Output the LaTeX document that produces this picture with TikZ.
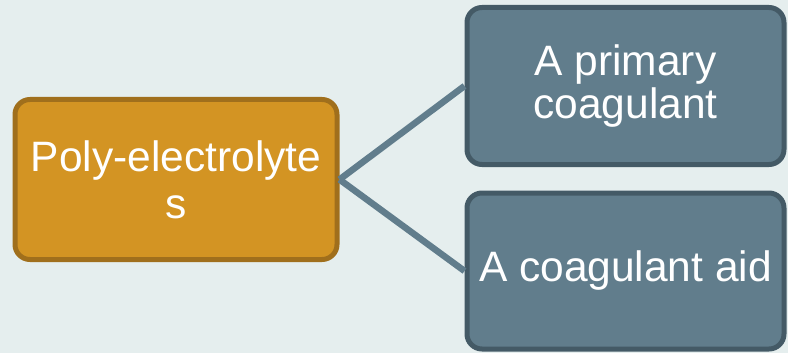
\documentclass[tikz,border=0pt]{standalone}
\usepackage{fontspec}
\setmainfont{Liberation Sans}
\definecolor{slidebg}{HTML}{E5EEEE}
\definecolor{ochre}{HTML}{D39423}
\definecolor{ochreline}{HTML}{A06F1C}
\definecolor{slate}{HTML}{617D8C}
\definecolor{slateline}{HTML}{445A66}
\tikzset{
  mainbox/.style={draw=ochreline, fill=ochre, line width=5pt, rounded corners=15pt,
    text=white, align=center, inner sep=0pt, font=\fontsize{42.5}{47}\selectfont},
  subbox/.style={draw=slateline, fill=slate, line width=5pt, rounded corners=15pt,
    text=white, align=center, inner sep=0pt, font=\fontsize{42.5}{43}\selectfont},
  branch/.style={draw=slate, line width=6.5pt}
}
\begin{document}
\begin{tikzpicture}[x=1pt, y=-1pt]
    \fill[slidebg] (0,0) rectangle (788,353);
    \useasboundingbox (0,0) rectangle (788,353);

    % left box
    \node[mainbox, minimum width=322pt, minimum height=160pt] (poly) at (176,179.5) {Poly-electrolyte\\s};

    % right boxes
    \node[subbox, minimum width=317pt, minimum height=157pt] (primary) at (625.5,86) {A primary\\coagulant};
    \node[subbox, minimum width=317pt, minimum height=156pt] (aid) at (625.5,271) {A coagulant aid};

    % connectors
    \draw[branch] (poly.east) -- (primary.west);
    \draw[branch] (poly.east) -- (aid.west);
\end{tikzpicture}
\end{document}
